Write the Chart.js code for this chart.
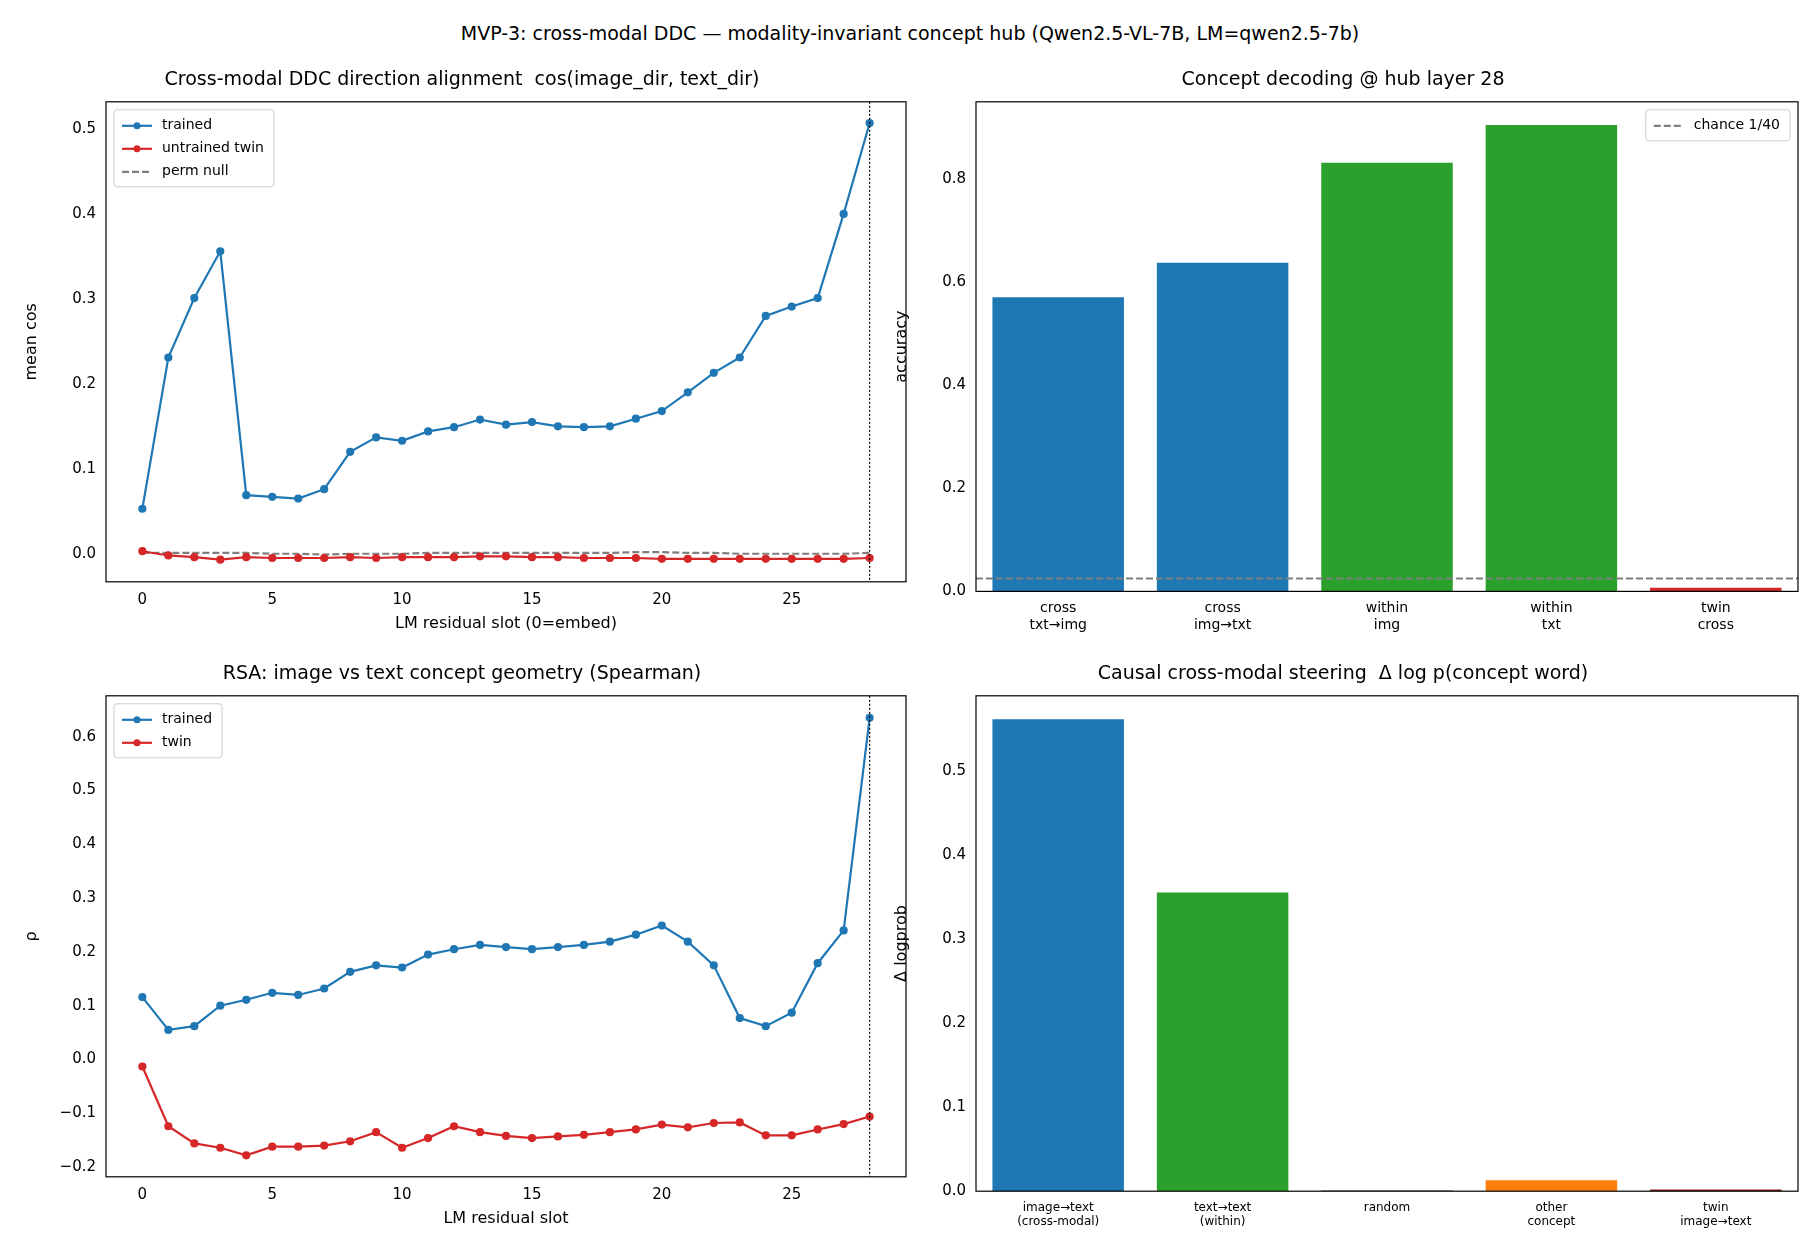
<!DOCTYPE html>
<html><head><meta charset="utf-8">
<script src="https://cdn.jsdelivr.net/npm/chart.js@4.4.0/dist/chart.umd.min.js"></script>
<style>
body{margin:0;background:#fff;width:1820px;height:1260px;position:relative;font-family:"DejaVu Sans",sans-serif;overflow:hidden}
canvas{position:absolute}
#sup{position:absolute;top:22px;left:0;width:1820px;text-align:center;font-size:19px;color:#000}
</style></head><body>
<div id="sup">MVP-3: cross-modal DDC — modality-invariant concept hub (Qwen2.5-VL-7B, LM=qwen2.5-7b)</div>
<canvas id="c1" width="900" height="570" style="left:18px;top:67px"></canvas>
<canvas id="c2" width="922" height="570" style="left:888px;top:67px"></canvas>
<canvas id="c3" width="900" height="571" style="left:18px;top:661px"></canvas>
<canvas id="c4" width="922" height="571" style="left:888px;top:661px"></canvas>
<script>
const slots = [...Array(29).keys()];
const cosTrained = [0.053,0.231,0.301,0.356,0.069,0.067,0.065,0.076,0.120,0.137,0.133,0.144,0.149,0.158,0.152,0.155,0.150,0.149,0.150,0.159,0.168,0.190,0.213,0.231,0.280,0.291,0.301,0.400,0.507];
const cosTwin = [0.003,-0.002,-0.004,-0.007,-0.004,-0.005,-0.005,-0.005,-0.004,-0.005,-0.004,-0.004,-0.004,-0.003,-0.003,-0.004,-0.004,-0.005,-0.005,-0.005,-0.006,-0.006,-0.006,-0.006,-0.006,-0.006,-0.006,-0.006,-0.005];
const cosPerm = [0.001,0.001,0.001,0.001,0.001,0.000,0.000,-0.001,0.000,0.000,0.000,0.001,0.001,0.001,0.001,0.001,0.001,0.001,0.001,0.002,0.002,0.001,0.001,0.000,0.000,0.000,0.000,0.000,0.001];
const rsaTrained = [0.116,0.055,0.062,0.100,0.111,0.124,0.120,0.132,0.163,0.175,0.171,0.195,0.205,0.213,0.209,0.205,0.209,0.213,0.219,0.232,0.249,0.219,0.175,0.077,0.062,0.087,0.179,0.240,0.635];
const rsaTwin = [-0.013,-0.124,-0.156,-0.164,-0.178,-0.162,-0.162,-0.160,-0.152,-0.135,-0.164,-0.146,-0.124,-0.135,-0.142,-0.146,-0.143,-0.140,-0.135,-0.130,-0.121,-0.126,-0.118,-0.117,-0.141,-0.141,-0.130,-0.120,-0.106];
const decLabels = [["cross","txt→img"],["cross","img→txt"],["within","img"],["within","txt"],["twin","cross"]];
const decAcc = [0.570,0.637,0.831,0.904,0.007];
const decColors = ["#1f77b4","#1f77b4","#2ca02c","#2ca02c","#d62728"];
const chance = 1/40;
const steerLabels = [["image→text","(cross-modal)"],["text→text","(within)"],"random",["other","concept"],["twin","image→text"]];
const steerVals = [0.561,0.355,0.001,0.013,0.002];
const steerColors = ["#1f77b4","#2ca02c","#7f7f7f","#ff7f0e","#8c1c13"];
const hubSlot = 28;

const F = '"DejaVu Sans", sans-serif';
Chart.defaults.font.family = F;
Chart.defaults.color = '#000';
Chart.defaults.animation = false;

const frame = {id:'frame', afterDraw(c, a, o){
  const {ctx, chartArea:ca, scales} = c;
  ctx.save();
  if (o.vline !== undefined) {
    const x = scales.x.getPixelForValue(o.vline);
    ctx.setLineDash([2,2]); ctx.strokeStyle='#000'; ctx.lineWidth=1.2;
    ctx.beginPath(); ctx.moveTo(x, ca.top); ctx.lineTo(x, ca.bottom); ctx.stroke();
  }
  if (o.hline !== undefined) {
    const y = scales.y.getPixelForValue(o.hline);
    ctx.setLineDash([7,3]); ctx.strokeStyle='#7f7f7f'; ctx.lineWidth=2.2;
    ctx.beginPath(); ctx.moveTo(ca.left, y); ctx.lineTo(ca.right, y); ctx.stroke();
  }
  ctx.setLineDash([]); ctx.strokeStyle='#000'; ctx.lineWidth=1.2;
  ctx.strokeRect(ca.left, ca.top, ca.right-ca.left, ca.bottom-ca.top);
  if (o.legend) {
    const items = o.legend, right = o.legendRight;
    ctx.font = '14px '+F;
    const w = Math.max(...items.map(i=>ctx.measureText(i.t).width)) + 58, h = items.length*23 + 8;
    const x0 = right ? ca.right - w - 8 : ca.left + 8, y0 = ca.top + 8;
    ctx.fillStyle='rgba(255,255,255,0.8)'; ctx.strokeStyle='#ccc'; ctx.lineWidth=1;
    ctx.beginPath(); ctx.roundRect(x0, y0, w, h, 3); ctx.fill(); ctx.stroke();
    items.forEach((it,i)=>{
      const y = y0 + 16 + i*23;
      ctx.strokeStyle = it.c; ctx.lineWidth = 2.2;
      ctx.setLineDash(it.dash ? [7,3] : []);
      ctx.beginPath(); ctx.moveTo(x0+8, y); ctx.lineTo(x0+38, y); ctx.stroke();
      ctx.setLineDash([]);
      if (!it.dash) { ctx.fillStyle=it.c; ctx.beginPath(); ctx.arc(x0+23, y, 3.5, 0, 7); ctx.fill(); }
      ctx.fillStyle='#000'; ctx.textBaseline='middle'; ctx.fillText(it.t, x0+48, y);
    });
  }
  ctx.restore();
}};
Chart.register(frame);

function yScale(min, max, step, label, fmt){
  return {min, max, grid:{display:false, drawTicks:true, tickLength:6, tickColor:'#000'}, border:{display:false},
    ticks:{font:{size:15}, callback:fmt, padding:4},
    title:{display:true, text:label, font:{size:16}},
    afterBuildTicks(s){
      const t = [];
      for (let k = Math.ceil(min/step - 1e-6); k*step <= max + 1e-9; k++) t.push({value: +(k*step).toFixed(6)});
      s.ticks = t;
    },
    afterFit(s){ s.width = 88; }};
}
const f1 = v => Math.abs(v) < 1e-9 ? '0.0' : (v<0?'−':'') + Math.abs(v).toFixed(1);
function lineDs(label, data, color, dash){
  return {label, data: data.map((v,i)=>({x:slots[i], y:v})), borderColor:color, backgroundColor:color,
    borderWidth:2.2, pointRadius: dash?0:3, pointHoverRadius:0, borderDash: dash?[7,3]:[], tension:0};
}
function lineChart(id, title, ds, ymin, ymax, step, ylab, xlab, legend){
  new Chart(document.getElementById(id), {type:'line', data:{datasets:ds},
    options:{responsive:false, layout:{padding:{right:12, top:0}},
      plugins:{legend:{display:false}, tooltip:{enabled:false},
        title:{display:true, text:title, font:{size:19, weight:'normal'}, padding:{top:2,bottom:10}},
        frame:{vline:hubSlot, legend}},
      scales:{x:{type:'linear', min:-1.4, max:29.4, grid:{display:false, tickLength:6, tickColor:'#000'}, border:{display:false},
          ticks:{font:{size:15}}, afterBuildTicks(s){s.ticks=[0,5,10,15,20,25].map(v=>({value:v}));},
          title:{display:true, text:xlab, font:{size:16}, padding:{top:2}}},
        y: yScale(ymin, ymax, step, ylab, f1)}}});
}
function barChart(id, title, labels, vals, colors, ymax, step, ylab, hline, legend, tsize){
  new Chart(document.getElementById(id), {type:'bar',
    data:{labels, datasets:[{data:vals, backgroundColor:colors, barPercentage:0.8, categoryPercentage:1}]},
    options:{responsive:false, layout:{padding:{right:12, top:0}},
      plugins:{legend:{display:false}, tooltip:{enabled:false},
        title:{display:true, text:title, font:{size:19, weight:'normal'}, padding:{top:2,bottom:10}},
        frame:{hline, legend, legendRight:true}},
      scales:{x:{grid:{display:false, tickLength:6, tickColor:'#000'}, border:{display:false},
          ticks:{font:{size:tsize}, maxRotation:0, autoSkip:false}},
        y: yScale(0, ymax, step, ylab, f1)}}});
}
lineChart('c1','Cross-modal DDC direction alignment  cos(image_dir, text_dir)',
  [lineDs('trained',cosTrained,'#1f77b4'), lineDs('untrained twin',cosTwin,'#d62728'), lineDs('perm null',cosPerm,'#7f7f7f',true)],
  -0.033, 0.532, 0.1, 'mean cos', 'LM residual slot (0=embed)',
  [{t:'trained',c:'#1f77b4'},{t:'untrained twin',c:'#d62728'},{t:'perm null',c:'#7f7f7f',dash:true}]);
lineChart('c3','RSA: image vs text concept geometry (Spearman)',
  [lineDs('trained',rsaTrained,'#1f77b4'), lineDs('twin',rsaTwin,'#d62728')],
  -0.218, 0.676, 0.1, 'ρ', 'LM residual slot',
  [{t:'trained',c:'#1f77b4'},{t:'twin',c:'#d62728'}]);
barChart('c2','Concept decoding @ hub layer 28', decLabels, decAcc, decColors, 0.949, 0.2, 'accuracy', chance,
  [{t:'chance 1/40',c:'#7f7f7f',dash:true}], 14);
barChart('c4','Causal cross-modal steering  Δ log p(concept word)', steerLabels, steerVals, steerColors, 0.589, 0.1, 'Δ logprob', undefined, undefined, 12);
</script></body></html>
